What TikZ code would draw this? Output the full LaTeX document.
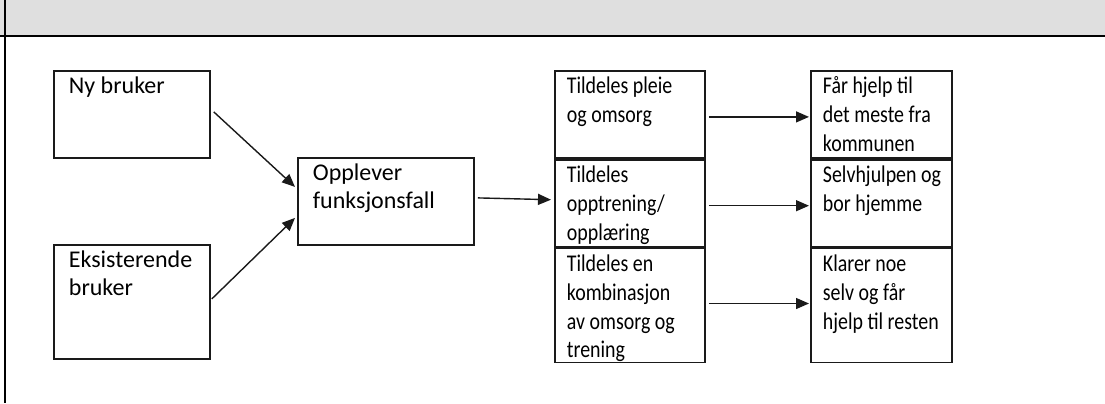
\documentclass[tikz,border=0pt]{standalone}
\usepackage{fontspec}
\setmainfont{Carlito}
\newfontfamily\narrowfont[FakeStretch=0.83]{Carlito}
\usepackage{tikz}
\usetikzlibrary{arrows.meta, positioning}
\definecolor{headergray}{HTML}{DFDFDF}
\definecolor{linegray}{HTML}{1A1A1A}
\newcommand{\celltext}[3]{\parbox[t][#1][t]{#2}{\raggedright\rule{0pt}{11.5pt}#3}}

\begin{document}
\begin{tikzpicture}[x=0.5pt, y=-0.5pt,
    box/.style={draw=linegray, line width=0.9pt, inner xsep=6pt, inner ysep=0pt, anchor=north west, font=\narrowfont\fontsize{12}{14.4}\selectfont},
    wbox/.style={box, inner xsep=7.5pt, font=\rmfamily\fontsize{12}{14}\selectfont},
    arr/.style={-{Triangle[length=6.5pt, width=5.5pt]}, line width=0.7pt, linegray},
]
\useasboundingbox (0,0) rectangle (1105,403);

% Header band
\fill[headergray] (0,0) rectangle (1105,36);
\draw[line width=1pt] (0,36) -- (1105,36);
\draw[line width=1.2pt] (5,0) -- (5,403);

% Users
\node[wbox] (ny) at (53,70) {\celltext{43.5pt}{63pt}{Ny bruker}};
\node[wbox] (eks) at (53,244) {\celltext{57pt}{63pt}{Eksisterende\\bruker}};

% Decline
\node[wbox] (opp) at (297,157) {\celltext{43.5pt}{73pt}{Opplever\\funksjonsfall}};

% Services
\node[box] (pleie) at (554,70) {\celltext{43.5pt}{63pt}{Tildeles pleie\\og omsorg}};
\node[box, below=0pt of pleie] (trening) {\celltext{43.5pt}{63pt}{Tildeles\\opptrening/\\opplæring}};
\node[box, below=0pt of trening] (kombi) {\celltext{57pt}{63pt}{Tildeles en\\kombinasjon\\av omsorg og\\trening}};

% Outcomes
\node[box] (hjelp) at (810,70) {\celltext{43.5pt}{58.5pt}{Får hjelp til\\det meste fra\\kommunen}};
\node[box, below=0pt of hjelp] (selv) {\celltext{43.5pt}{58.5pt}{\mbox{Selvhjulpen og}\\bor hjemme}};
\node[box, below=0pt of selv] (klarer) {\celltext{57pt}{58.5pt}{Klarer noe\\selv og får\\\mbox{hjelp til resten}}};

% Arrows
\draw[arr] ([xshift=1.5pt, yshift=1.25pt]ny.east) -- ([xshift=-1pt, yshift=7.25pt]opp.west);
\draw[arr] ([xshift=0.5pt, yshift=1.5pt]eks.east) -- ([xshift=-1pt, yshift=-8.25pt]opp.west);
\draw[arr] ([xshift=1.5pt, yshift=1.75pt]opp.east) -- ([xshift=-1.5pt, yshift=1.75pt]trening.west);
\draw[arr] ([xshift=1.5pt, yshift=-1.25pt]pleie.east) -- ([xshift=-0.5pt, yshift=-1.25pt]hjelp.west);
\draw[arr] ([xshift=1.5pt, yshift=-1.25pt]trening.east) -- ([xshift=-0.5pt, yshift=-1.25pt]selv.west);
\draw[arr] ([xshift=1.5pt, yshift=1pt]kombi.east) -- ([xshift=-0.5pt, yshift=1pt]klarer.west);

\end{tikzpicture}
\end{document}
